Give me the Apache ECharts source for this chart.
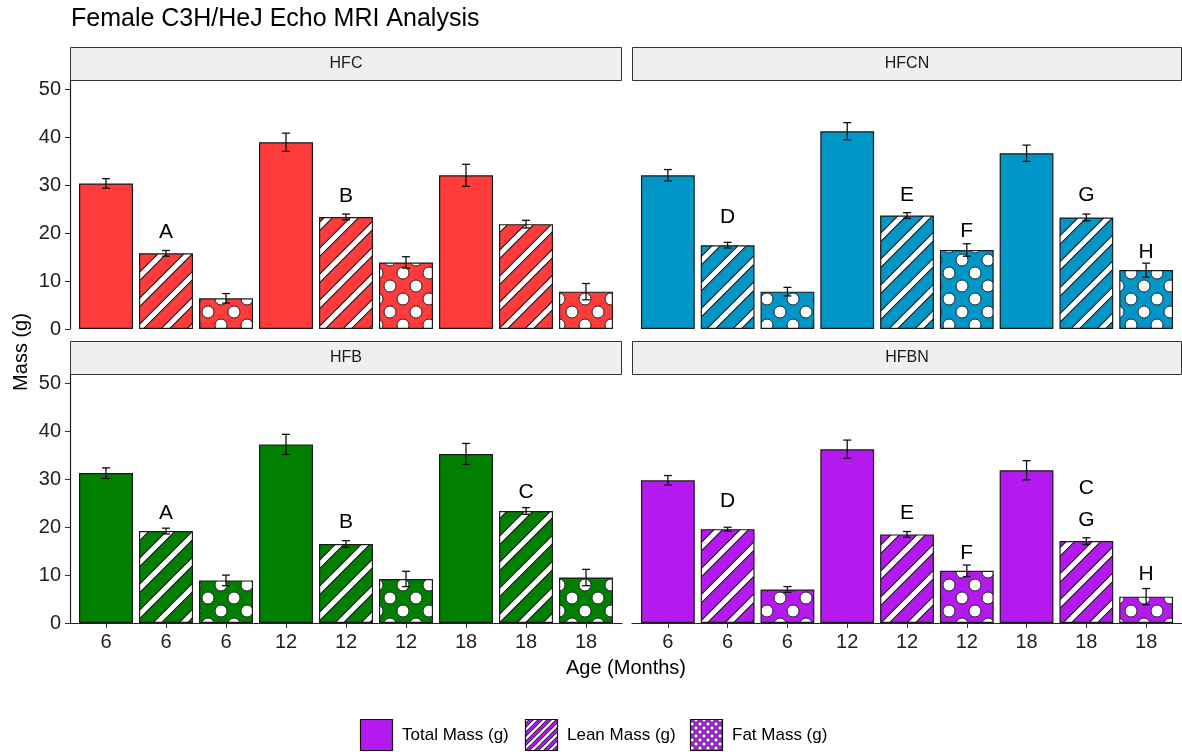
<!DOCTYPE html>
<html>
<head>
<meta charset="utf-8">
<script src="https://cdn.jsdelivr.net/npm/echarts@6/dist/echarts.min.js"></script>
<style>
  html, body { margin: 0; padding: 0; background: #fff; }
  #chart { width: 1182px; height: 752px; }
</style>
</head>
<body>
<div id="chart"></div>
<script>
// ---- data ----
const ages = ['6', '6', '6', '12', '12', '12', '18', '18', '18'];
const massKind = ['total', 'lean', 'fat', 'total', 'lean', 'fat', 'total', 'lean', 'fat'];
const panelNames = ['HFC', 'HFCN', 'HFB', 'HFBN'];
const seriesNames = ['Total Mass (g)', 'Lean Mass (g)', 'Fat Mass (g)'];

const hfcMass = [30.4, 15.8, 6.4, 39.0, 23.4, 13.9, 32.1, 21.9, 7.8];
const hfcErr = [1.0, 0.6, 1.0, 1.9, 0.6, 1.2, 2.3, 0.8, 1.7];
const hfcLetters = ['', 'A', '', '', 'B', '', '', '', ''];
const hfcLetterY = [null, 20.3, null, null, 27.7, null, null, null, null];

const hfcnMass = [32.1, 17.5, 7.8, 41.3, 23.7, 16.5, 36.7, 23.3, 12.3];
const hfcnErr = [1.2, 0.6, 0.9, 1.8, 0.6, 1.3, 1.7, 0.7, 1.45];
const hfcnLetters = ['', 'D', '', '', 'E', 'F', '', 'G', 'H'];
const hfcnLetterY = [null, 23.4, null, null, 27.9, 20.5, null, 27.9, 16.1];

const hfbMass = [31.3, 19.2, 8.9, 37.3, 16.5, 9.2, 35.3, 23.4, 9.5];
const hfbErr = [1.1, 0.6, 1.1, 2.1, 0.7, 1.6, 2.2, 0.7, 1.7];
const hfbLetters = ['', 'A', '', '', 'B', '', '', 'C', ''];
const hfbLetterY = [null, 22.9, null, null, 21.1, null, null, 27.4, null];

const hfbnMass = [29.8, 19.6, 7.0, 36.3, 18.5, 10.9, 31.9, 17.1, 5.5];
const hfbnErr = [1.0, 0.4, 0.6, 1.9, 0.6, 1.2, 2.0, 0.7, 1.7];
const hfbnLetters = ['', 'D', '', '', 'E', 'F', '', 'C\nG', 'H'];
const hfbnLetterY = [null, 25.4, null, null, 23.0, 14.5, null, 24.8, 10.2];

const yTicks = [0, 10, 20, 30, 40, 50];

// ---- look ----
const FONT = '"Liberation Sans", Arial, sans-serif';
const panelColors = ['#ff3b3b', '#0096c8', '#007f00', '#b41af0'];
const panelMass = [hfcMass, hfcnMass, hfbMass, hfbnMass];
const panelErr = [hfcErr, hfcnErr, hfbErr, hfbnErr];
const panelLetters = [hfcLetters, hfcnLetters, hfbLetters, hfbnLetters];
const panelLetterY = [hfcLetterY, hfcnLetterY, hfbLetterY, hfbnLetterY];

const grids = [
  { left: 70, top: 80, width: 552, height: 249 },
  { left: 632, top: 80, width: 550, height: 249 },
  { left: 70, top: 374, width: 552, height: 249 },
  { left: 632, top: 374, width: 550, height: 249 }
];

function stripeFill(bg, band, P, outer, inner) {
  const c = document.createElement('canvas');
  c.width = c.height = P;
  const g = c.getContext('2d');
  g.fillStyle = bg;
  g.fillRect(0, 0, P, P);
  [[outer, '#111'], [inner, band]].forEach(([w, s]) => {
    g.lineWidth = w;
    g.strokeStyle = s;
    for (let k = -1; k <= 1; k++) {
      g.beginPath();
      g.moveTo(k * P - 4, P + 4);
      g.lineTo(k * P + P + 4, -4);
      g.stroke();
    }
  });
  return { image: c, repeat: 'repeat' };
}

function dotFill(bg, D, r, lw) {
  const c = document.createElement('canvas');
  c.width = c.height = D;
  const g = c.getContext('2d');
  g.fillStyle = bg;
  g.fillRect(0, 0, D, D);
  g.fillStyle = '#fff';
  g.strokeStyle = '#222';
  g.lineWidth = lw;
  [[0, 0], [D, 0], [0, D], [D, D], [D / 2, D / 2]].forEach(([x, y]) => {
    g.beginPath();
    g.arc(x, y, r, 0, Math.PI * 2);
    g.fill();
    g.stroke();
  });
  return { image: c, repeat: 'repeat' };
}

function fillFor(kind, color) {
  if (kind === 'lean') return stripeFill(color, '#fff', 26, 7, 5);
  if (kind === 'fat') return dotFill(color, 26, 6, 1);
  return color;
}

const xAxis = [], yAxis = [], series = [], graphic = [];

grids.forEach((gd, i) => {
  const bottomRow = i >= 2;
  const leftCol = i % 2 === 0;
  const color = panelColors[i];

  xAxis.push({
    type: 'value', gridIndex: i, min: -0.6, max: 8.6, show: bottomRow,
    axisLine: { show: true, onZero: false, lineStyle: { color: '#222', width: 1.2 } },
    axisTick: { show: true, length: 5, lineStyle: { color: '#333' }, customValues: ages.map((a, j) => j) },
    axisLabel: {
      customValues: ages.map((a, j) => j),
      formatter: (v) => ages[Math.round(v)],
      fontSize: 20, color: '#222', fontFamily: FONT, margin: 9
    },
    splitLine: { show: false }
  });

  yAxis.push({
    type: 'value', gridIndex: i, min: 0, max: 52, show: leftCol,
    axisLine: { show: true, onZero: false, lineStyle: { color: '#222', width: 1.2 } },
    axisTick: { show: true, length: 5, lineStyle: { color: '#333' }, customValues: yTicks },
    axisLabel: { customValues: yTicks, fontSize: 20, color: '#222', fontFamily: FONT, margin: 9 },
    splitLine: { show: false }
  });

  series.push({
    type: 'bar', xAxisIndex: i, yAxisIndex: i, barWidth: '90%', silent: true,
    data: panelMass[i].map((m, j) => ({
      value: [j, m],
      itemStyle: { color: fillFor(massKind[j], color), borderColor: '#1a1a1a', borderWidth: 1.2 }
    }))
  });

  const err = panelErr[i];
  series.push({
    type: 'custom', xAxisIndex: i, yAxisIndex: i, silent: true, z: 5,
    data: panelMass[i].map((m, j) => [j, m - err[j], m + err[j]]),
    renderItem: (params, api) => {
      const x = api.value(0);
      const lo = api.coord([x, api.value(1)]);
      const hi = api.coord([x, api.value(2)]);
      const cap = 4;
      const st = { stroke: '#111', lineWidth: 1.3 };
      return {
        type: 'group', children: [
          { type: 'line', shape: { x1: lo[0], y1: lo[1], x2: hi[0], y2: hi[1] }, style: st },
          { type: 'line', shape: { x1: hi[0] - cap, y1: hi[1], x2: hi[0] + cap, y2: hi[1] }, style: st },
          { type: 'line', shape: { x1: lo[0] - cap, y1: lo[1], x2: lo[0] + cap, y2: lo[1] }, style: st }
        ]
      };
    }
  });

  const letters = panelLetters[i];
  const letterY = panelLetterY[i];
  const marks = [];
  letters.forEach((t, j) => { if (t) marks.push({ x: j, y: letterY[j], t: t }); });
  series.push({
    type: 'custom', xAxisIndex: i, yAxisIndex: i, silent: true, z: 6,
    data: marks.map((m) => [m.x, m.y]),
    renderItem: (params, api) => {
      const p = api.coord([api.value(0), api.value(1)]);
      return {
        type: 'text', x: p[0], y: p[1],
        style: {
          text: marks[params.dataIndex].t, fill: '#000', fontSize: 21, fontFamily: FONT,
          align: 'center', verticalAlign: 'middle', lineHeight: 32
        }
      };
    }
  });

  // facet strip
  graphic.push({
    type: 'rect', silent: true,
    shape: { x: gd.left + 0.5, y: gd.top - 33 + 0.5, width: gd.width - 1, height: 33 },
    style: { fill: '#efefef', stroke: '#333', lineWidth: 1 }
  });
  graphic.push({
    type: 'text', silent: true,
    x: gd.left + gd.width / 2, y: gd.top - 16,
    style: { text: panelNames[i], fill: '#1a1a1a', fontSize: 16, fontFamily: FONT, align: 'center', verticalAlign: 'middle' }
  });
});

// axis titles
graphic.push({
  type: 'text', silent: true, x: 626, y: 668,
  style: { text: 'Age (Months)', fill: '#000', fontSize: 20, fontFamily: FONT, align: 'center', verticalAlign: 'middle' }
});
graphic.push({
  type: 'text', silent: true, x: 21, y: 352, rotation: Math.PI / 2,
  style: { text: 'Mass (g)', fill: '#000', fontSize: 20, fontFamily: FONT, align: 'center', verticalAlign: 'middle' }
});

// legend (purple keys, as in the figure)
const legendColor = panelColors[3];
const legendFills = [
  legendColor,
  stripeFill('#fff', legendColor, 9, 4, 2.4),
  dotFill(legendColor, 8, 2, 0.6)
];
const legendX = [360, 525, 690];
seriesNames.forEach((name, k) => {
  graphic.push({
    type: 'rect', silent: true,
    shape: { x: legendX[k] + 0.5, y: 719.5, width: 32, height: 31 },
    style: { fill: legendFills[k], stroke: '#111', lineWidth: 1.2 }
  });
  graphic.push({
    type: 'text', silent: true, x: legendX[k] + 42, y: 735,
    style: { text: name, fill: '#000', fontSize: 17, fontFamily: FONT, align: 'left', verticalAlign: 'middle' }
  });
});

const chart = echarts.init(document.getElementById('chart'));
chart.setOption({
  animation: false,
  backgroundColor: '#fff',
  textStyle: { fontFamily: FONT },
  title: {
    text: 'Female C3H/HeJ Echo MRI Analysis',
    left: 66, top: 2,
    textStyle: { fontSize: 25, fontWeight: 'normal', color: '#000', fontFamily: FONT }
  },
  grid: grids,
  xAxis: xAxis,
  yAxis: yAxis,
  series: series,
  graphic: graphic
});
</script>
</body>
</html>
